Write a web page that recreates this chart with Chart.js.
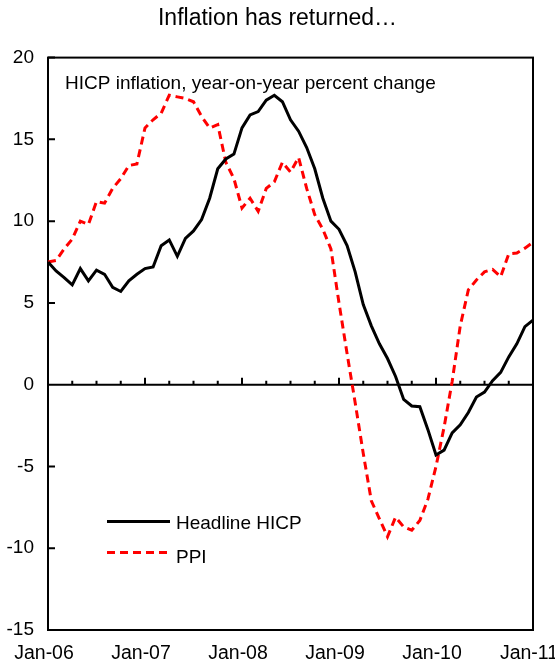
<!DOCTYPE html>
<html>
<head>
<meta charset="utf-8">
<script src="https://cdn.jsdelivr.net/npm/chart.js@4.4.0/dist/chart.umd.min.js"></script>
<style>
  html, body { margin: 0; padding: 0; background: #fff; }
  #wrap { width: 555px; height: 667px; }
</style>
</head>
<body>
<div id="wrap"><canvas id="chart" width="555" height="667"></canvas></div>
<script>
// monthly categories, Jan-06 .. Jan-11
const months = [
  'Jan-06','Feb-06','Mar-06','Apr-06','May-06','Jun-06','Jul-06','Aug-06','Sep-06','Oct-06','Nov-06','Dec-06',
  'Jan-07','Feb-07','Mar-07','Apr-07','May-07','Jun-07','Jul-07','Aug-07','Sep-07','Oct-07','Nov-07','Dec-07',
  'Jan-08','Feb-08','Mar-08','Apr-08','May-08','Jun-08','Jul-08','Aug-08','Sep-08','Oct-08','Nov-08','Dec-08',
  'Jan-09','Feb-09','Mar-09','Apr-09','May-09','Jun-09','Jul-09','Aug-09','Sep-09','Oct-09','Nov-09','Dec-09',
  'Jan-10','Feb-10','Mar-10','Apr-10','May-10','Jun-10','Jul-10','Aug-10','Sep-10','Oct-10','Nov-10','Dec-10',
  'Jan-11'
];
const tickLabels = ['Jan-06', 'Jan-07', 'Jan-08', 'Jan-09', 'Jan-10', 'Jan-11'];

const hicp = [
  7.5, 6.95, 6.55, 6.1, 7.1, 6.35, 7.0, 6.75, 5.95, 5.7, 6.35, 6.75,
  7.1, 7.2, 8.5, 8.85, 7.85, 8.95, 9.4, 10.1, 11.4, 13.2, 13.8, 14.1,
  15.7, 16.5, 16.7, 17.4, 17.7, 17.3, 16.2, 15.5, 14.5, 13.2, 11.4, 10.0,
  9.5, 8.5, 6.9, 4.9, 3.6, 2.5, 1.6, 0.5, -0.9, -1.3, -1.35, -2.75,
  -4.3, -4.0, -2.95, -2.45, -1.7, -0.75, -0.45, 0.25, 0.75, 1.7, 2.5, 3.55,
  3.95
];
const ppi = [
  7.5, 7.6, 8.3, 8.9, 10.0, 9.8, 11.2, 11.1, 12.0, 12.6, 13.4, 13.5,
  15.7, 16.2, 16.6, 17.7, 17.6, 17.5, 17.3, 16.4, 15.7, 15.9, 13.6, 12.6,
  10.8, 11.4, 10.6, 12.0, 12.4, 13.6, 13.0, 13.9, 12.0, 10.4, 9.5, 8.3,
  5.0, 1.9, -1.1, -4.2, -7.1, -8.2, -9.3, -8.1, -8.7, -8.9, -8.3, -7.0,
  -5.0, -2.6, 0.2, 3.6, 5.8, 6.4, 6.9, 7.05, 6.6, 8.0, 8.05, 8.35,
  8.7
];

const FONT = "'Liberation Sans', Arial, sans-serif";

// frame, zero line with quarterly ticks, inward y ticks
const framePlugin = {
  id: 'frame',
  beforeDatasetsDraw(chart) {
    const { ctx, chartArea: a, scales: { x, y } } = chart;
    ctx.save();
    ctx.strokeStyle = '#000';
    ctx.lineWidth = 2;
    ctx.strokeRect(a.left, a.top, a.right - a.left, a.bottom - a.top);

    const y0 = y.getPixelForValue(0);
    ctx.beginPath();
    ctx.moveTo(a.left, y0);
    ctx.lineTo(a.right, y0);
    for (let i = 0; i < months.length; i += 3) {
      const px = x.getPixelForValue(i);
      const len = i % 12 === 0 ? 7 : 4;
      ctx.moveTo(px, y0);
      ctx.lineTo(px, y0 - len);
    }
    for (let v = -15; v <= 20; v += 5) {
      const py = y.getPixelForValue(v);
      ctx.moveTo(a.left, py);
      ctx.lineTo(a.left + 7, py);
    }
    ctx.stroke();
    ctx.restore();
  },
  afterDraw(chart) {
    const { ctx, chartArea: a } = chart;
    ctx.save();
    ctx.fillStyle = '#000';
    ctx.font = '19px ' + FONT;
    ctx.textBaseline = 'alphabetic';
    ctx.fillText('HICP inflation, year-on-year percent change', a.left + 17, a.top + 31);

    // legend
    const lx = a.left + 59, lw = 63;
    ctx.lineWidth = 3;
    ctx.strokeStyle = '#000';
    ctx.beginPath();
    ctx.moveTo(lx, a.top + 464);
    ctx.lineTo(lx + lw, a.top + 464);
    ctx.stroke();
    ctx.strokeStyle = '#ff0000';
    ctx.setLineDash([8, 5]);
    ctx.beginPath();
    ctx.moveTo(lx, a.top + 495);
    ctx.lineTo(lx + lw, a.top + 495);
    ctx.stroke();
    ctx.setLineDash([]);
    ctx.fillText('Headline HICP', lx + lw + 6, a.top + 471);
    ctx.fillText('PPI', lx + lw + 6, a.top + 505);
    ctx.restore();
  }
};

new Chart(document.getElementById('chart'), {
  type: 'line',
  data: {
    labels: months,
    datasets: [
      {
        label: 'Headline HICP',
        data: hicp,
        borderColor: '#000',
        borderWidth: 3,
        pointRadius: 0,
        tension: 0
      },
      {
        label: 'PPI',
        data: ppi,
        borderColor: '#ff0000',
        borderWidth: 3,
        borderDash: [8, 5],
        pointRadius: 0,
        tension: 0
      }
    ]
  },
  options: {
    responsive: false,
    animation: false,
    layout: { padding: 0 },
    plugins: {
      legend: { display: false },
      tooltip: { enabled: false },
      title: {
        display: true,
        text: 'Inflation has returned…',
        color: '#000',
        font: { family: FONT, size: 23, weight: 'normal', lineHeight: 1.2 },
        padding: { top: 5, bottom: 25 }
      }
    },
    scales: {
      x: {
        type: 'category',
        offset: false,
        grid: { display: false, drawTicks: false },
        border: { display: false },
        ticks: {
          autoSkip: false,
          maxRotation: 0,
          minRotation: 0,
          padding: 12,
          labelOffset: -4,
          color: '#000',
          font: { family: FONT, size: 19.5 },
          callback: function (val, i) {
            return tickLabels.includes(months[i]) ? months[i] : '';
          }
        },
        afterFit: s => { s.height = 37; s.paddingLeft = 0; s.paddingRight = 0; }
      },
      y: {
        min: -15,
        max: 20,
        grid: { display: false, drawTicks: false },
        border: { display: false },
        ticks: {
          stepSize: 5,
          padding: 14,
          color: '#000',
          font: { family: FONT, size: 19 }
        },
        afterFit: s => { s.width = 48; s.paddingTop = 0; s.paddingBottom = 0; }
      },
      // empty right-hand axis, only reserves the gap right of the frame
      y2: {
        position: 'right',
        min: -15,
        max: 20,
        grid: { display: false, drawTicks: false },
        border: { display: false },
        ticks: { display: false },
        afterFit: s => { s.width = 22; }
      }
    }
  },
  plugins: [framePlugin]
});
</script>
</body>
</html>
